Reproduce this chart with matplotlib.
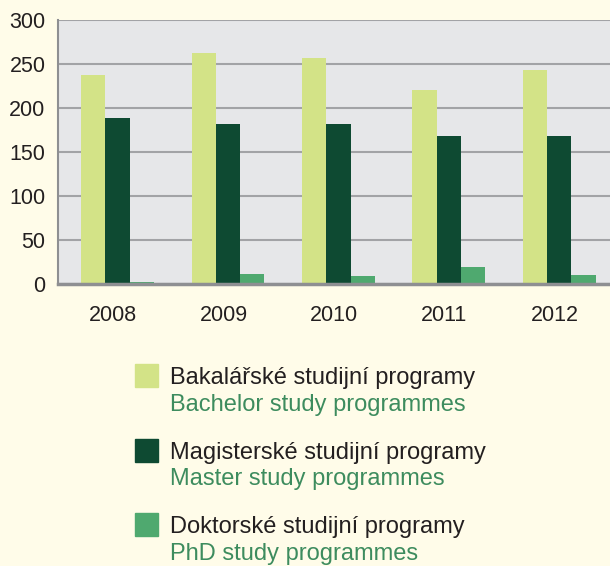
import numpy as np
import matplotlib.pyplot as plt
from matplotlib.patches import Rectangle

# Data
years = ['2008', '2009', '2010', '2011', '2012']
bakalarske = [237, 262, 257, 220, 243]
magisterske = [189, 182, 182, 168, 168]
doktorske = [2, 11, 9, 20, 10]

labels_cz = ['Bakalářské studijní programy', 'Magisterské studijní programy', 'Doktorské studijní programy']
labels_en = ['Bachelor study programmes', 'Master study programmes', 'PhD study programmes']
colors = ['#d3e387', '#0e4a32', '#4fa96f']

plt.rcParams['font.family'] = ['Liberation Sans', 'DejaVu Sans']

fig = plt.figure(figsize=(6.1, 5.66), dpi=100, facecolor='#fffce9')
ax = fig.add_axes([0.095, 0.498, 0.905, 0.467])
ax.set_facecolor('#e6e7e9')

x = np.arange(len(years))
w = 0.22
for i, vals in enumerate([bakalarske, magisterske, doktorske]):
    ax.bar(x + (i - 1) * w + 0.04, vals, width=w, color=colors[i], zorder=3)

ax.set_xlim(-0.5, 4.5)
ax.set_ylim(0, 300)
ax.set_yticks(np.arange(0, 301, 50))
ax.set_xticks(x)
ax.set_xticklabels(years)
ax.grid(axis='y', color='#a2a3a6', linewidth=1.5, zorder=1)
ax.tick_params(length=0, labelsize=15.5, colors='#231f20', pad=9)
ax.tick_params(axis='x', pad=15)
for s in ['top', 'right']:
    ax.spines[s].set_visible(False)
ax.spines['left'].set_color('#8e8f92')
ax.spines['left'].set_linewidth(1.5)
ax.spines['bottom'].set_color('#8e8f92')
ax.spines['bottom'].set_linewidth(2.5)
ax.spines['bottom'].set_zorder(4)

# Legend
for i in range(3):
    ytop = 364 + i * 74.5
    fig.patches.append(Rectangle((135 / 610, 1 - (ytop + 23) / 566), 23 / 610, 23 / 566,
                                 transform=fig.transFigure, color=colors[i]))
    fig.text(170 / 610, 1 - (ytop + 14) / 566, labels_cz[i], fontsize=17, color='#231f20', va='center')
    fig.text(170 / 610, 1 - (ytop + 41) / 566, labels_en[i], fontsize=17, color='#3d8c5e', va='center')

fig.savefig('out.png', dpi=100, facecolor=fig.get_facecolor())
